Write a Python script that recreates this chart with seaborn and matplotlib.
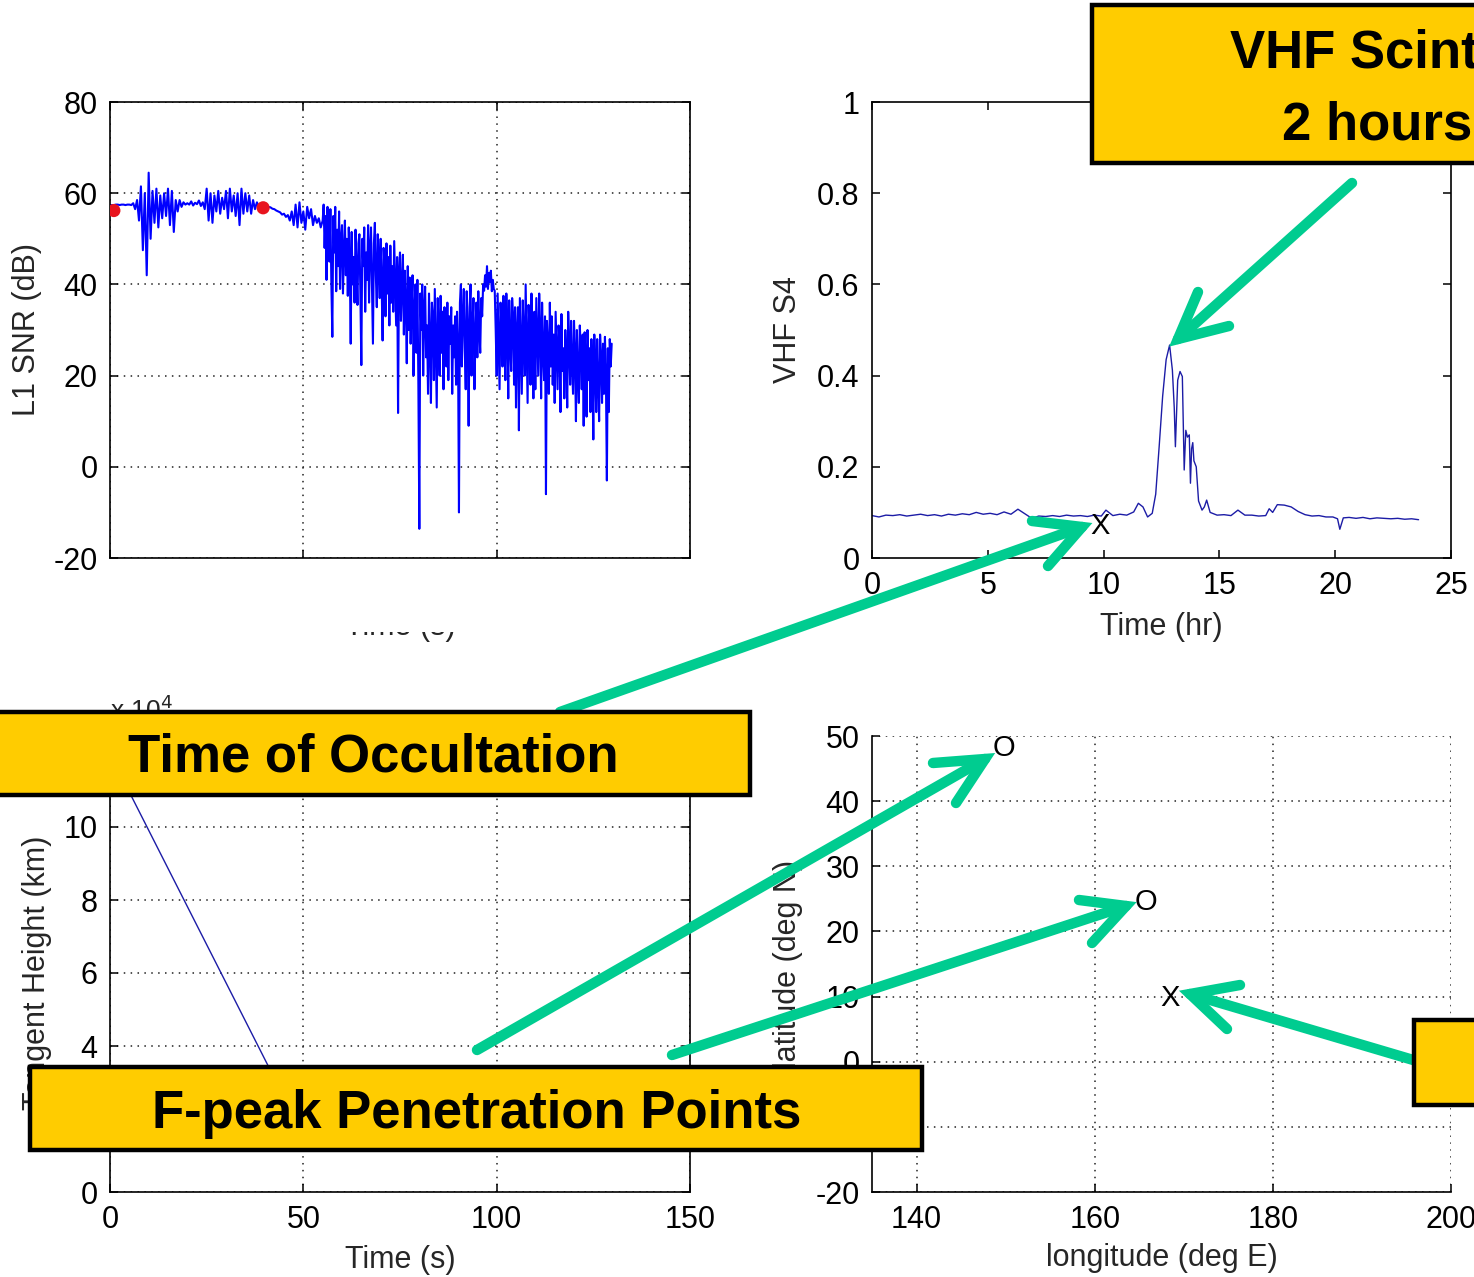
import numpy as np
import pandas as pd
import matplotlib
matplotlib.use("Agg")
import matplotlib.pyplot as plt
from matplotlib.lines import Line2D
from matplotlib.patches import Rectangle
import seaborn as sns

# ---------------------------------------------------------------- data
# L1 SNR of the occultation link: 0.5 s samples up to 55 s, 0.25 s after
snr_time = np.concatenate([np.arange(0.0, 55.0, 0.5), np.arange(55.0, 130.0, 0.25)])
snr_db = [
    # 0 - 55 s
    57.3, 57.4, 57.4, 57.5, 57.5, 57.4, 57.5, 57.5, 57.4, 57.5,
    57.5, 57.4, 57.8, 56.5, 58.5, 54.0, 61.5, 47.5, 60.0, 42.0,
    64.5, 50.0, 60.5, 53.5, 61.0, 52.5, 59.5, 54.5, 60.0, 55.0,
    61.0, 53.0, 60.5, 51.5, 58.5, 56.0, 58.5, 57.0, 58.0, 57.5,
    57.8, 57.5, 58.2, 57.3, 57.9, 57.6, 58.4, 57.2, 58.0, 56.5,
    61.0, 54.0, 60.0, 53.5, 59.5, 56.0, 60.5, 55.5, 59.0, 56.5,
    60.5, 54.5, 61.0, 56.0, 59.5, 55.0, 60.0, 53.0, 61.0, 55.5,
    60.0, 56.0, 59.5, 55.5, 58.5, 56.5, 58.0, 57.0, 57.5, 57.2,
    57.3, 57.2, 57.0, 56.9, 56.6, 56.5, 56.2, 56.0, 55.8, 55.3,
    55.5, 54.8, 55.2, 54.0, 56.0, 53.0, 57.5, 52.5, 58.0, 53.5,
    56.0, 52.0, 57.0, 54.5, 56.5, 53.0, 55.0, 53.5, 54.5, 52.5,
    # 55 - 130 s
    54.0, 57.5, 48.0, 55.0, 41.0, 57.0, 50.0, 45.0, 56.5, 40.0,
    28.5, 55.0, 47.0, 57.0, 38.5, 52.0, 44.0, 56.0, 39.0, 50.0,
    53.0, 38.0, 47.0, 54.0, 42.0, 50.0, 37.5, 52.5, 45.0, 27.0,
    51.5, 40.0, 46.0, 36.0, 52.0, 43.0, 35.5, 49.0, 51.0, 38.0,
    22.3, 50.0, 44.0, 52.5, 34.0, 47.0, 41.0, 53.0, 36.0, 48.0,
    52.5, 39.0, 27.0, 49.0, 53.5, 42.0, 35.0, 51.0, 45.0, 37.0,
    50.0, 40.0, 27.7, 48.0, 44.0, 33.0, 49.0, 38.0, 46.0, 31.0,
    48.5, 36.0, 44.0, 34.0, 49.5, 40.0, 31.0, 46.0, 11.8, 43.0,
    47.0, 32.0, 40.0, 46.5, 29.0, 43.0, 36.0, 22.7, 44.0, 30.0,
    41.5, 27.0, 36.0, 42.0, 20.0, 34.0, 40.0, 25.0, 41.0, 18.0,
    -13.6, 38.0, 30.0, 40.0, 20.0, 35.0, 39.5, 24.0, 31.0, 16.0,
    38.0, 28.0, 14.0, 36.0, 33.0, 19.0, 39.0, 26.0, 13.0, 37.0,
    30.0, 20.0, 37.5, 25.0, 34.0, 17.0, 35.0, 29.0, 22.0, 36.0,
    19.0, 33.0, 27.0, 35.0, 16.0, 31.0, 24.0, 33.0, 18.0, 34.0,
    27.0, -10.0, 36.0, 40.0, 22.0, 33.0, 39.0, 26.0, 17.0, 38.5,
    30.0, 9.0, 35.0, 40.0, 20.0, 31.0, 37.0, 17.0, 28.0, 36.0,
    24.0, 38.5, 30.0, 25.0, 37.0, 33.0, 40.0, 38.6, 42.0, 39.5,
    44.0, 39.0, 42.5, 40.5, 43.0, 38.5, 41.0, 39.0, 38.6, 30.0,
    20.0, 38.0, 28.0, 17.0, 36.0, 31.0, 22.0, 37.5, 26.0, 19.0,
    38.0, 30.0, 15.0, 36.5, 27.0, 21.0, 37.0, 33.0, 18.0, 35.0,
    13.0, 30.0, 35.0, 8.0, 37.0, 26.0, 16.0, 36.5, 29.0, 20.0,
    40.0, 27.0, 14.0, 35.5, 31.0, 18.0, 38.0, 24.0, 15.0, 34.0,
    17.0, 37.0, 28.0, 20.0, 38.0, 30.0, 15.0, 36.0, 25.0, 19.0,
    33.0, -6.0, 32.0, 27.0, 16.0, 36.0, 22.0, 33.0, 18.0, 29.0,
    14.0, 34.0, 25.0, 17.0, 31.0, 28.0, 12.0, 33.5, 21.0, 26.0,
    15.0, 30.0, 24.0, 13.0, 34.0, 27.0, 18.0, 32.0, 22.0, 16.0,
    32.0, 25.0, 10.0, 30.0, 20.0, 14.0, 31.0, 26.0, 17.0, 29.0,
    9.0, 29.5, 23.0, 11.0, 30.0, 19.0, 26.0, 12.0, 28.0, 21.0,
    6.0, 29.0, 22.0, 12.0, 28.0, 18.0, 10.0, 29.0, 24.0, 14.0,
    27.0, 16.0, 28.5, 20.0, -3.0, 26.0, 12.0, 28.0, 22.0, 27.0,
]
# start / end of the occultation window
snr_mark_time = [1.0, 39.6]
snr_mark_db = [56.2, 56.8]

# VHF S4 index over the day
s4_time = [
    0.0, 0.3, 0.6, 0.9, 1.2, 1.5, 1.8, 2.1, 2.4, 2.7,
    3.0, 3.3, 3.6, 3.9, 4.2, 4.5, 4.8, 5.1, 5.4, 5.7,
    6.0, 6.3, 6.6, 6.9, 7.2, 7.5, 7.8, 8.1, 8.4, 8.7,
    9.0, 9.3, 9.6, 9.9, 10.1, 10.4, 10.7, 11.0, 11.3, 11.5,
    11.7, 11.9, 12.1, 12.25, 12.4, 12.55, 12.7, 12.85, 12.97, 13.05,
    13.1, 13.2, 13.3, 13.4, 13.48, 13.55, 13.62, 13.7, 13.75, 13.8,
    13.85, 13.9, 14.0, 14.1, 14.25, 14.35, 14.45, 14.6, 14.9, 15.2,
    15.5, 15.8, 16.1, 16.4, 16.7, 17.0, 17.15, 17.3, 17.5, 17.8,
    18.1, 18.4, 18.7, 19.0, 19.3, 19.6, 19.9, 20.1, 20.2, 20.35,
    20.6, 20.9, 21.2, 21.5, 21.8, 22.1, 22.4, 22.7, 23.0, 23.3,
    23.6,
]
s4_index = [
    0.093, 0.090, 0.094, 0.093, 0.095, 0.092, 0.094, 0.096, 0.093, 0.095,
    0.092, 0.096, 0.094, 0.097, 0.095, 0.100, 0.096, 0.098, 0.095, 0.101,
    0.096, 0.107, 0.097, 0.087, 0.092, 0.091, 0.093, 0.091, 0.094, 0.092,
    0.093, 0.091, 0.094, 0.092, 0.105, 0.093, 0.096, 0.094, 0.101, 0.120,
    0.112, 0.090, 0.098, 0.140, 0.245, 0.355, 0.435, 0.467, 0.412, 0.330,
    0.244, 0.390, 0.409, 0.398, 0.193, 0.280, 0.265, 0.270, 0.164, 0.240,
    0.253, 0.213, 0.200, 0.125, 0.105, 0.112, 0.127, 0.100, 0.094, 0.095,
    0.093, 0.105, 0.094, 0.094, 0.092, 0.093, 0.108, 0.100, 0.117, 0.116,
    0.112, 0.102, 0.095, 0.092, 0.093, 0.090, 0.090, 0.086, 0.063, 0.088,
    0.089, 0.087, 0.089, 0.086, 0.088, 0.087, 0.086, 0.087, 0.085, 0.086,
    0.084,
]
occult_hour = [9.84]
occult_s4 = [0.070]

# tangent height of the GPS ray path
tangent_time = [0.0, 45.0]
tangent_km = [120000.0, 26000.0]

# geographic positions: F-peak penetration points (O) and VHF site (X)
pen_lon = [149.8, 165.7]
pen_lat = [48.2, 24.5]
site_lon = [168.5]
site_lat = [9.8]

# ---------------------------------------------------------------- style
W, H = 1474, 1277
sns.set_style("white")
plt.rcParams['font.family'] = ['Liberation Sans', 'DejaVu Sans']
plt.rcParams['axes.unicode_minus'] = False
plt.rcParams['axes.edgecolor'] = 'black'
plt.rcParams['axes.linewidth'] = 1.2

TICK_FS = 22
LABEL_FS = 22
GRID = dict(color='#222222', linestyle=(0, (1, 3.5)), linewidth=1.1)
LINE_BLUE = '#0000ff'
LINE_NAVY = '#1c1ca6'
GREEN = '#00cc90'
YELLOW = '#ffcc00'

fig = plt.figure(figsize=(W / 100, H / 100), dpi=100)


def axes_px(left, top, right, bottom):
    return fig.add_axes([left / W, 1 - bottom / H, (right - left) / W, (bottom - top) / H])


def fx(x):
    return x / W


def fy(y):
    return 1 - y / H


def style_ticks(ax, box=True):
    ax.tick_params(direction='in', length=6, width=1.1, labelsize=TICK_FS,
                   colors='black', pad=9, top=box, right=box, bottom=True, left=True)
    for s in ax.spines.values():
        s.set_color('black')
        s.set_linewidth(1.2)


# ---------------------------------------------------------------- L1 SNR
ax1 = axes_px(110, 102, 690, 558)
sns.lineplot(x=snr_time, y=snr_db, ax=ax1, color=LINE_BLUE, linewidth=1.5,
             estimator=None, sort=False)
sns.scatterplot(x=snr_mark_time, y=snr_mark_db, ax=ax1, color='#e8141e',
                s=90, edgecolor='none', zorder=5)
ax1.set_xlim(0, 150)
ax1.set_ylim(-20, 80)
ax1.set_xticks([0, 50, 100, 150])
ax1.set_xticklabels([])
ax1.set_yticks([-20, 0, 20, 40, 60, 80])
ax1.grid(True, **GRID)
style_ticks(ax1)
ax1.set_ylabel('L1 SNR (dB)', fontsize=LABEL_FS)
ax1.yaxis.set_label_coords(-0.118, 0.5)
ax1.set_xlabel('Time (s)', fontsize=LABEL_FS)
ax1.xaxis.set_label_coords(0.5, -0.118)

# ---------------------------------------------------------------- VHF S4
ax2 = axes_px(872, 102, 1451, 558)
sns.lineplot(x=s4_time, y=s4_index, ax=ax2, color=LINE_NAVY, linewidth=1.0,
             estimator=None, sort=False)
for t, v in zip(occult_hour, occult_s4):
    ax2.text(t, v, 'X', fontsize=21, ha='center', va='center', color='black')
ax2.set_xlim(0, 25)
ax2.set_ylim(0, 1)
ax2.set_xticks([0, 5, 10, 15, 20, 25])
ax2.set_yticks([0, 0.2, 0.4, 0.6, 0.8, 1])
ax2.set_yticklabels(['0', '0.2', '0.4', '0.6', '0.8', '1'])
style_ticks(ax2)
ax2.set_xlabel('Time (hr)', fontsize=LABEL_FS)
ax2.xaxis.set_label_coords(0.5, -0.118)
ax2.set_ylabel('VHF S4', fontsize=LABEL_FS)
ax2.yaxis.set_label_coords(-0.119, 0.5)

# ---------------------------------------------------------------- tangent height
ax3 = axes_px(110, 754, 690, 1192)
sns.lineplot(x=tangent_time, y=np.array(tangent_km) / 1e4, ax=ax3,
             color=LINE_NAVY, linewidth=1.0, estimator=None, sort=False)
ax3.set_xlim(0, 150)
ax3.set_ylim(0, 12)
ax3.set_xticks([0, 50, 100, 150])
ax3.set_yticks([0, 2, 4, 6, 8, 10, 12])
ax3.grid(True, **GRID)
style_ticks(ax3)
ax3.set_xlabel('Time (s)', fontsize=LABEL_FS)
ax3.xaxis.set_label_coords(0.5, -0.121)
ax3.set_ylabel('Tangent Height (km)', fontsize=LABEL_FS)
ax3.yaxis.set_label_coords(-0.100, 0.5)
fig.text(fx(110), fy(719), r'x 10$^{4}$', fontsize=19, ha='left', va='baseline')

# ---------------------------------------------------------------- map
ax4 = axes_px(872, 736, 1451, 1192)
for lo, la in zip(pen_lon, pen_lat):
    ax4.text(lo, la, 'O', fontsize=21, ha='center', va='center', color='black')
for lo, la in zip(site_lon, site_lat):
    ax4.text(lo, la, 'X', fontsize=21, ha='center', va='center', color='black')
ax4.set_xlim(135, 200)
ax4.set_ylim(-20, 50)
ax4.set_xticks([140, 160, 180, 200])
ax4.set_yticks([-20, -10, 0, 10, 20, 30, 40, 50])
ax4.grid(True, **GRID)
ax4.spines['top'].set_visible(False)
ax4.spines['right'].set_visible(False)
style_ticks(ax4, box=False)
ax4.set_xlabel('longitude (deg E)', fontsize=LABEL_FS)
ax4.xaxis.set_label_coords(0.5, -0.112)
ax4.set_ylabel('latitude (deg N)', fontsize=LABEL_FS)
ax4.yaxis.set_label_coords(-0.119, 0.5)

# the top-left time label sits mostly under a blank strip
fig.add_artist(Rectangle((fx(250), fy(632)), fx(300), (632 - 565) / H,
                         transform=fig.transFigure, facecolor='white',
                         edgecolor='none', zorder=5))

# ---------------------------------------------------------------- callout arrows
arrows = [
    # shaft start, tip, barb 1, barb 2  (figure pixels)
    ((1352, 183), (1178, 339), (1198, 292), (1229, 326)),
    ((560, 712), (1082, 527), (1032, 521), (1048, 566)),
    ((477, 1050), (985, 759), (933, 763), (956, 803)),
    ((672, 1055), (1126, 906), (1079, 900), (1092, 943)),
    ((1420, 1062), (1190, 994), (1240, 985), (1227, 1029)),
]
for start, tip, b1, b2 in arrows:
    for pts in ([start, tip], [b1, tip, b2]):
        xs = [fx(p[0]) for p in pts]
        ys = [fy(p[1]) for p in pts]
        fig.add_artist(Line2D(xs, ys, transform=fig.transFigure, color=GREEN,
                              linewidth=7.5, solid_capstyle='round',
                              solid_joinstyle='miter', zorder=10))

# ---------------------------------------------------------------- callout boxes
boxes = [(1092, 5, 1490, 163), (-10, 712, 750, 795), (30, 1067, 922, 1150),
         (1414, 1020, 1490, 1105)]
for l, t, r, b in boxes:
    fig.add_artist(Rectangle((fx(l), fy(b)), (r - l) / W, (b - t) / H,
                             transform=fig.transFigure, facecolor=YELLOW,
                             edgecolor='black', linewidth=3.2, zorder=20))

BOX_TXT = dict(fontsize=38, fontweight='bold', color='black', zorder=21,
               va='baseline')
fig.text(fx(1230), fy(67), 'VHF Scintillation', ha='left', **BOX_TXT)
fig.text(fx(1282), fy(140), '2 hours later', ha='left', **BOX_TXT)
fig.text(fx(373), fy(772), 'Time of Occultation', ha='center', **BOX_TXT)
fig.text(fx(477), fy(1128), 'F-peak Penetration Points', ha='center', **BOX_TXT)

fig.savefig('out.png', dpi=100)
